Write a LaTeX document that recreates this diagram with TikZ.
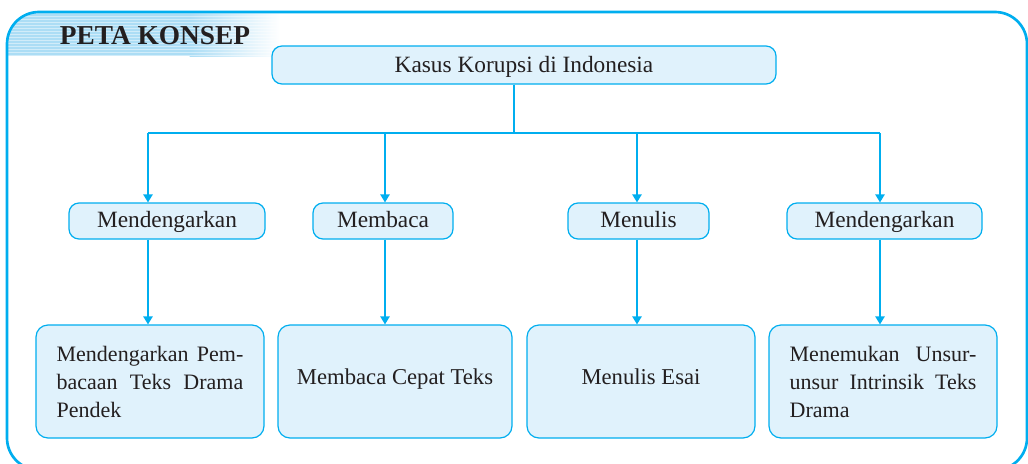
\documentclass[tikz,border=0pt]{standalone}
\usepackage{fontspec}
\setmainfont{Liberation Serif}
\usetikzlibrary{arrows.meta}
\definecolor{cyanline}{RGB}{0,174,239}
\definecolor{boxfill}{RGB}{224,242,252}
\definecolor{bandblue}{RGB}{172,221,245}
\definecolor{textc}{RGB}{35,31,32}
\tikzset{
  box/.style={draw=cyanline, fill=boxfill, line width=0.9pt, text=textc, inner sep=0pt},
  topbox/.style={box, rounded corners=7.5pt, minimum height=28.5pt, text height=14.5pt, text depth=4pt, font=\fontsize{17.5}{21}\selectfont},
  midbox/.style={box, rounded corners=7.5pt, minimum height=27pt, text height=13pt, text depth=4pt, font=\fontsize{17.5}{21}\selectfont},
  lowbox/.style={box, rounded corners=9pt, minimum height=84.75pt, font=\fontsize{16.5}{21}\selectfont},
  lowone/.style={lowbox, text height=11pt, text depth=5.8pt, font=\fontsize{17}{21}\selectfont},
  conn/.style={draw=cyanline, line width=1.1pt},
  arr/.style={conn, -{Triangle[width=7pt,length=6pt]}},
  frame/.style={draw=cyanline, line width=2pt, rounded corners=24pt}
}
\newcommand{\jline}[1]{\makebox[140pt][s]{#1}}
\begin{document}
\begin{tikzpicture}[x=0.75pt,y=-0.75pt]
\useasboundingbox (0,0) rectangle (1028,464);
% title band
\begin{scope}
  \clip[rounded corners=24pt] (7,12) rectangle (1027,470);
  \fill[bandblue] (7,12) rectangle (190,56);
  \shade[left color=bandblue, right color=white] (189.5,12) rectangle (280,56);
  \foreach \yy in {13.5,16.5,...,56} {
    \draw[white, opacity=0.45, line width=1.1pt] (7,\yy) -- (280,\yy);
  }
\end{scope}
\draw[frame] (7,12) rectangle (1027,470);
\node[font=\bfseries\fontsize{20.5}{24}\selectfont, text=textc] (title) at (155,36) {PETA KONSEP};
% top node
\node[topbox, minimum width=378pt] (top) at (524,65) {Kasus Korupsi di Indonesia};
% middle nodes
\node[midbox, minimum width=147pt] (m1) at (167,221) {Mendengarkan};
\node[midbox, minimum width=105pt] (m2) at (383,221) {Membaca};
\node[midbox, minimum width=105.75pt] (m3) at (638.5,221) {Menulis};
\node[midbox, minimum width=146.25pt] (m4) at (884.5,221) {Mendengarkan};
% lower nodes
\node[lowbox, minimum width=171pt] (d1) at (150,381.5) {\parbox{140pt}{\jline{Mendengarkan Pem-}\\\jline{bacaan Teks Drama}\\Pendek}};
\node[lowone, minimum width=175.5pt] (d2) at (395,381.5) {Membaca Cepat Teks};
\node[lowone, minimum width=171pt] (d3) at (641,381.5) {Menulis Esai};
\node[lowbox, minimum width=171pt] (d4) at (883,381.5) {\parbox{140pt}{\jline{Menemukan Unsur-}\\\jline{unsur Intrinsik Teks}\\Drama}};
% connectors
\coordinate (hub) at (514,133);
\coordinate (b1) at (148,133);
\coordinate (b2) at (385,133);
\coordinate (b3) at (637,133);
\coordinate (b4) at (880,133);
\draw[conn] (top.south -| hub) -- (hub);
\draw[conn] (b1) -- (b4);
\draw[arr] (b1) -- (m1.north -| b1);
\draw[arr] (b2) -- (m2.north -| b2);
\draw[arr] (b3) -- (m3.north -| b3);
\draw[arr] (b4) -- (m4.north -| b4);
\draw[arr] (m1.south -| b1) -- (d1.north -| b1);
\draw[arr] (m2.south -| b2) -- (d2.north -| b2);
\draw[arr] (m3.south -| b3) -- (d3.north -| b3);
\draw[arr] (m4.south -| b4) -- (d4.north -| b4);
\end{tikzpicture}
\end{document}
